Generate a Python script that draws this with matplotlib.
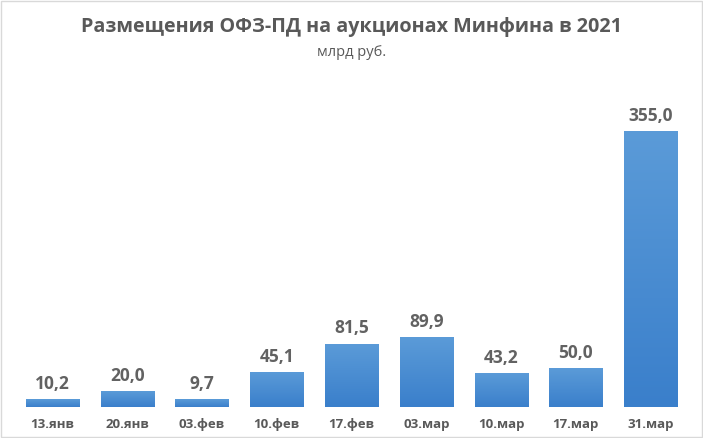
import numpy as np
import matplotlib
matplotlib.use("Agg")
import matplotlib.pyplot as plt
from matplotlib.colors import LinearSegmentedColormap

dates = ['13.янв', '20.янв', '03.фев', '10.фев', '17.фев', '03.мар', '10.мар', '17.мар', '31.мар']
values = [10.2, 20.0, 9.7, 45.1, 81.5, 89.9, 43.2, 50.0, 355.0]

plt.rcParams['font.family'] = ['Open Sans', 'DejaVu Sans']
GRAY = '#595959'

fig = plt.figure(figsize=(7.03, 4.38), dpi=100)
ax = fig.add_axes([15 / 703, 31 / 438, 673 / 703, 311 / 438])

x = np.arange(len(dates))
bars = ax.bar(x, values, width=0.71, color='#4a8cd3')

# vertical gradient inside each bar (lighter at top)
cmap = LinearSegmentedColormap.from_list('b', ['#3a7fcb', '#5b9bd8'])
grad = np.linspace(0, 1, 256).reshape(-1, 1)
for b in bars:
    x0, y0 = b.get_x(), b.get_y()
    w, h = b.get_width(), b.get_height()
    im = ax.imshow(grad, extent=[x0, x0 + w, y0, y0 + h], origin='lower',
                   cmap=cmap, aspect='auto', zorder=2)
    im.set_clip_path(b)
    b.set_alpha(0)

for xi, v in zip(x, values):
    ax.text(xi, v + 8, f"{v:.1f}".replace('.', ','), ha='center', va='bottom',
            fontsize=12.5, fontweight='bold', color='#626262')

ax.set_xlim(-0.5, len(dates) - 0.5)
ax.set_ylim(0, 400)
ax.set_xticks(x)
ax.set_xticklabels(dates, fontsize=9.5, fontweight='bold', color=GRAY)
ax.tick_params(axis='x', length=0, pad=8)
ax.set_yticks([])
for s in ax.spines.values():
    s.set_visible(False)

fig.text(0.5, 1 - 27 / 438, "Размещения ОФЗ-ПД на аукционах Минфина в 2021",
         ha='center', va='center', fontsize=14.2, fontweight='bold', color=GRAY)
fig.text(0.5, 1 - 52 / 438, "млрд руб.", ha='center', va='center',
         fontsize=10.5, color=GRAY)

# thin light frame around the picture
fig.patches.append(plt.Rectangle((0.002, 0.002), 0.996, 0.996, transform=fig.transFigure,
                                 fill=False, edgecolor='#d9d9d9', linewidth=1))

fig.savefig("out.png", dpi=100)
